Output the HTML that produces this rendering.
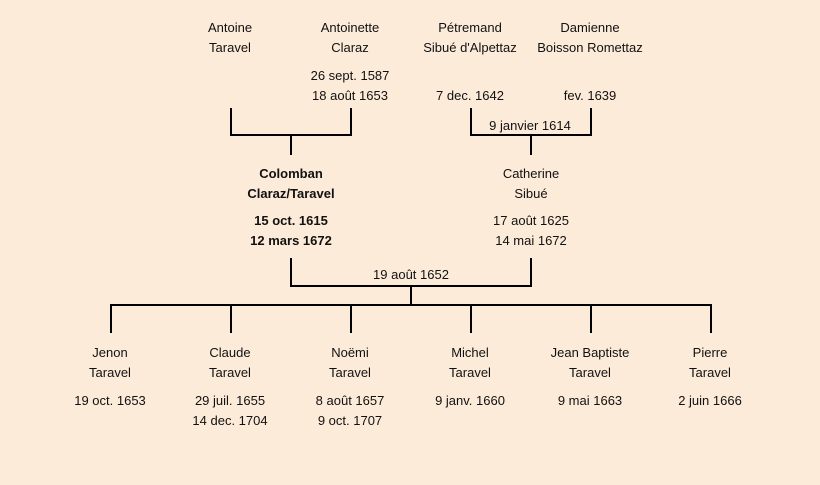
<!DOCTYPE html>
<html><head><meta charset="utf-8"><style>
html,body{margin:0;padding:0}
body{width:820px;height:485px;background:#fdebd9;position:relative;overflow:hidden;font-family:"Liberation Sans",sans-serif;font-size:13px;color:#111}
.t{position:absolute;width:160px;margin-left:-80px;text-align:center;line-height:20px;white-space:nowrap;transform:translateY(1px)}
.b{font-weight:bold}
svg{position:absolute;left:0;top:0}
</style></head><body>
<svg width="820" height="485" stroke="#000" stroke-width="2" fill="none">
<path d="M231 108V135H351V108M291 135V155"/>
<path d="M471 108V135H591V108M531 135V155"/>
<path d="M291 258V286H531V258M411 286V305"/>
<path d="M111 333V305H711V333M231 305V333M351 305V333M471 305V333M591 305V333"/>
</svg>
<div class="t" style="left:230px;top:17px">Antoine<br>Taravel</div>
<div class="t" style="left:350px;top:17px">Antoinette<br>Claraz</div>
<div class="t" style="left:470px;top:17px">Pétremand<br>Sibué d'Alpettaz</div>
<div class="t" style="left:590px;top:17px">Damienne<br>Boisson Romettaz</div>
<div class="t" style="left:350px;top:65px">26 sept. 1587<br>18 août 1653</div>
<div class="t" style="left:470px;top:85px">7 dec. 1642</div>
<div class="t" style="left:590px;top:85px">fev. 1639</div>
<div class="t" style="left:530px;top:115px">9 janvier 1614</div>
<div class="t b" style="left:291px;top:163px">Colomban<br>Claraz/Taravel</div>
<div class="t b" style="left:291px;top:210px">15 oct. 1615<br>12 mars 1672</div>
<div class="t" style="left:531px;top:163px">Catherine<br>Sibué</div>
<div class="t" style="left:531px;top:210px">17 août 1625<br>14 mai 1672</div>
<div class="t" style="left:411px;top:264px">19 août 1652</div>
<div class="t" style="left:110px;top:342px">Jenon<br>Taravel</div>
<div class="t" style="left:230px;top:342px">Claude<br>Taravel</div>
<div class="t" style="left:350px;top:342px">Noëmi<br>Taravel</div>
<div class="t" style="left:470px;top:342px">Michel<br>Taravel</div>
<div class="t" style="left:590px;top:342px">Jean Baptiste<br>Taravel</div>
<div class="t" style="left:710px;top:342px">Pierre<br>Taravel</div>
<div class="t" style="left:110px;top:390px">19 oct. 1653</div>
<div class="t" style="left:230px;top:390px">29 juil. 1655<br>14 dec. 1704</div>
<div class="t" style="left:350px;top:390px">8 août 1657<br>9 oct. 1707</div>
<div class="t" style="left:470px;top:390px">9 janv. 1660</div>
<div class="t" style="left:590px;top:390px">9 mai 1663</div>
<div class="t" style="left:710px;top:390px">2 juin 1666</div>
</body></html>
